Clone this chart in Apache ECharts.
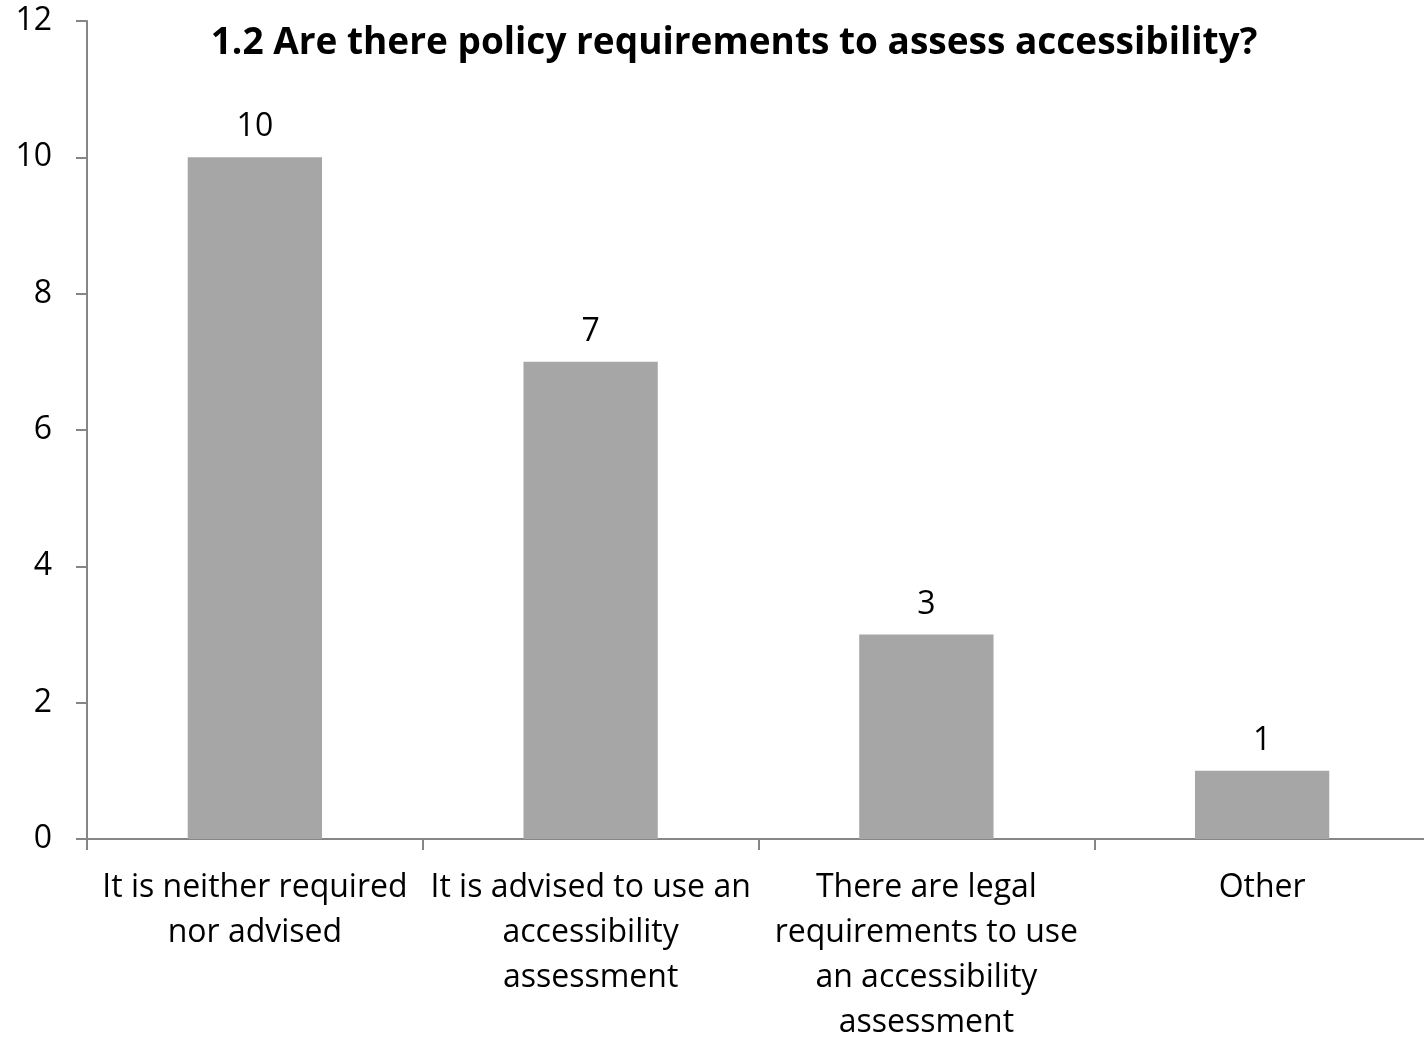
<!DOCTYPE html>
<html>
<head>
<meta charset="utf-8">
<script src="https://cdn.jsdelivr.net/npm/echarts@6/dist/echarts.min.js"></script>
<style>
  html, body { margin: 0; padding: 0; background: #fff; }
  #chart { width: 1424px; height: 1040px; }
</style>
</head>
<body>
<div id="chart"></div>
<script>
// categories (line breaks as in the picture)
const categories = [
  'It is neither required\nnor advised',
  'It is advised to use an\naccessibility\nassessment',
  'There are legal\nrequirements to use\nan accessibility\nassessment',
  'Other'
];
const counts = [10, 7, 3, 1];
const yTicks = { min: 0, max: 12, step: 2 };

const FONT = '"Open Sans", Lato, sans-serif';

const chart = echarts.init(document.getElementById('chart'));

const option = {
  animation: false,
  title: {
    text: '1.2 Are there policy requirements to assess accessibility?',
    left: 729,
    top: 20,
    textAlign: 'center',
    textStyle: { fontFamily: FONT, fontSize: 37, fontWeight: 'bold', color: '#000' }
  },
  grid: { left: 87, right: -6, top: 21, bottom: 201, containLabel: false, outerBoundsMode: 'none' },
  xAxis: {
    type: 'category',
    data: categories,
    axisLine: { lineStyle: { color: '#868686', width: 2 } },
    axisTick: { show: true, length: 11, lineStyle: { color: '#868686', width: 2 } },
    axisLabel: {
      interval: 0,
      margin: 26,
      fontFamily: FONT,
      fontSize: 32,
      lineHeight: 45,
      color: '#000'
    }
  },
  yAxis: {
    type: 'value',
    min: yTicks.min,
    max: yTicks.max,
    interval: yTicks.step,
    splitLine: { show: false },
    axisLine: { show: true, lineStyle: { color: '#868686', width: 2 } },
    axisTick: { show: true, length: 11, lineStyle: { color: '#868686', width: 2 } },
    axisLabel: { margin: 35, fontFamily: FONT, fontSize: 32, color: '#000' }
  },
  series: [{
    type: 'bar',
    data: counts,
    barWidth: '40%',
    itemStyle: { color: '#a6a6a6' },
    label: {
      show: true,
      position: 'top',
      distance: 14,
      fontFamily: FONT,
      fontSize: 32,
      color: '#000'
    }
  }]
};

chart.setOption(option);
</script>
</body>
</html>
